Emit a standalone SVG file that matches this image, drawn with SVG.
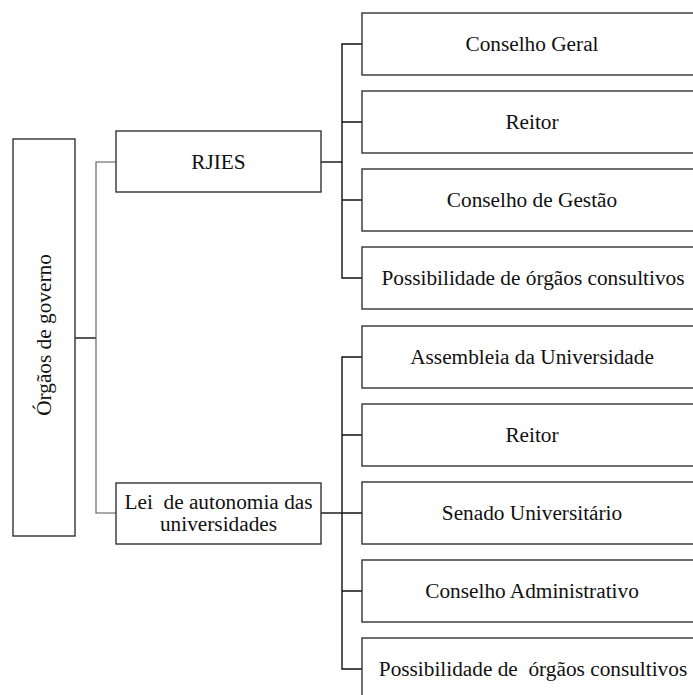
<svg xmlns="http://www.w3.org/2000/svg" width="693" height="695" viewBox="0 0 693 695">
<style>
.box{fill:#fff;stroke:#333;stroke-width:1.4}
.t{font-family:"Liberation Serif","Times New Roman",serif;font-size:21.3px;fill:#111;text-anchor:middle}
.c{fill:none;stroke:#111;stroke-width:1.4}
.g{fill:none;stroke:#555;stroke-width:1.1}
</style>
<rect width="693" height="695" fill="#fff"/>
<g id="connectors">
<path class="c" d="M75,338H96"/>
<path class="g" d="M116,162H96V513H116"/>
<path class="c" d="M321,162H342"/>
<path class="c" d="M321,513H342"/>
<path class="c" d="M362,44H342V278H362M342,122H362M342,200H362"/>
<path class="c" d="M362,357H342V669H362M342,435H362M342,513H362M342,591H362"/>
</g>
<g id="orgaos"><rect class="box" x="13" y="139" width="62" height="397"/><text class="t" transform="translate(51,335) rotate(-90)">Órgãos de governo</text></g>
<g id="rjies"><rect class="box" x="116" y="131" width="205" height="61"/><text class="t" x="218.5" y="169">RJIES</text></g>
<g id="lei"><rect class="box" x="116" y="483" width="205" height="61"/><text class="t" x="218.5" y="509" xml:space="preserve">Lei  de autonomia das</text><text class="t" x="218.5" y="531">universidades</text></g>
<g id="n1"><rect class="box" x="362" y="13" width="345" height="62"/><text class="t" x="532" y="51">Conselho Geral</text></g>
<g id="n2"><rect class="box" x="362" y="91" width="345" height="62"/><text class="t" x="532" y="129">Reitor</text></g>
<g id="n3"><rect class="box" x="362" y="169" width="345" height="62"/><text class="t" x="532" y="207">Conselho de Gestão</text></g>
<g id="n4"><rect class="box" x="362" y="247" width="345" height="62"/><text class="t" x="533" y="285">Possibilidade de órgãos consultivos</text></g>
<g id="n5"><rect class="box" x="362" y="326" width="345" height="62"/><text class="t" x="532" y="364">Assembleia da Universidade</text></g>
<g id="n6"><rect class="box" x="362" y="404" width="345" height="62"/><text class="t" x="532" y="442">Reitor</text></g>
<g id="n7"><rect class="box" x="362" y="482" width="345" height="62"/><text class="t" x="532" y="520">Senado Universitário</text></g>
<g id="n8"><rect class="box" x="362" y="560" width="345" height="62"/><text class="t" x="532" y="598">Conselho Administrativo</text></g>
<g id="n9"><rect class="box" x="362" y="638" width="345" height="62"/><text class="t" x="533" y="676" xml:space="preserve">Possibilidade de  órgãos consultivos</text></g>
</svg>
